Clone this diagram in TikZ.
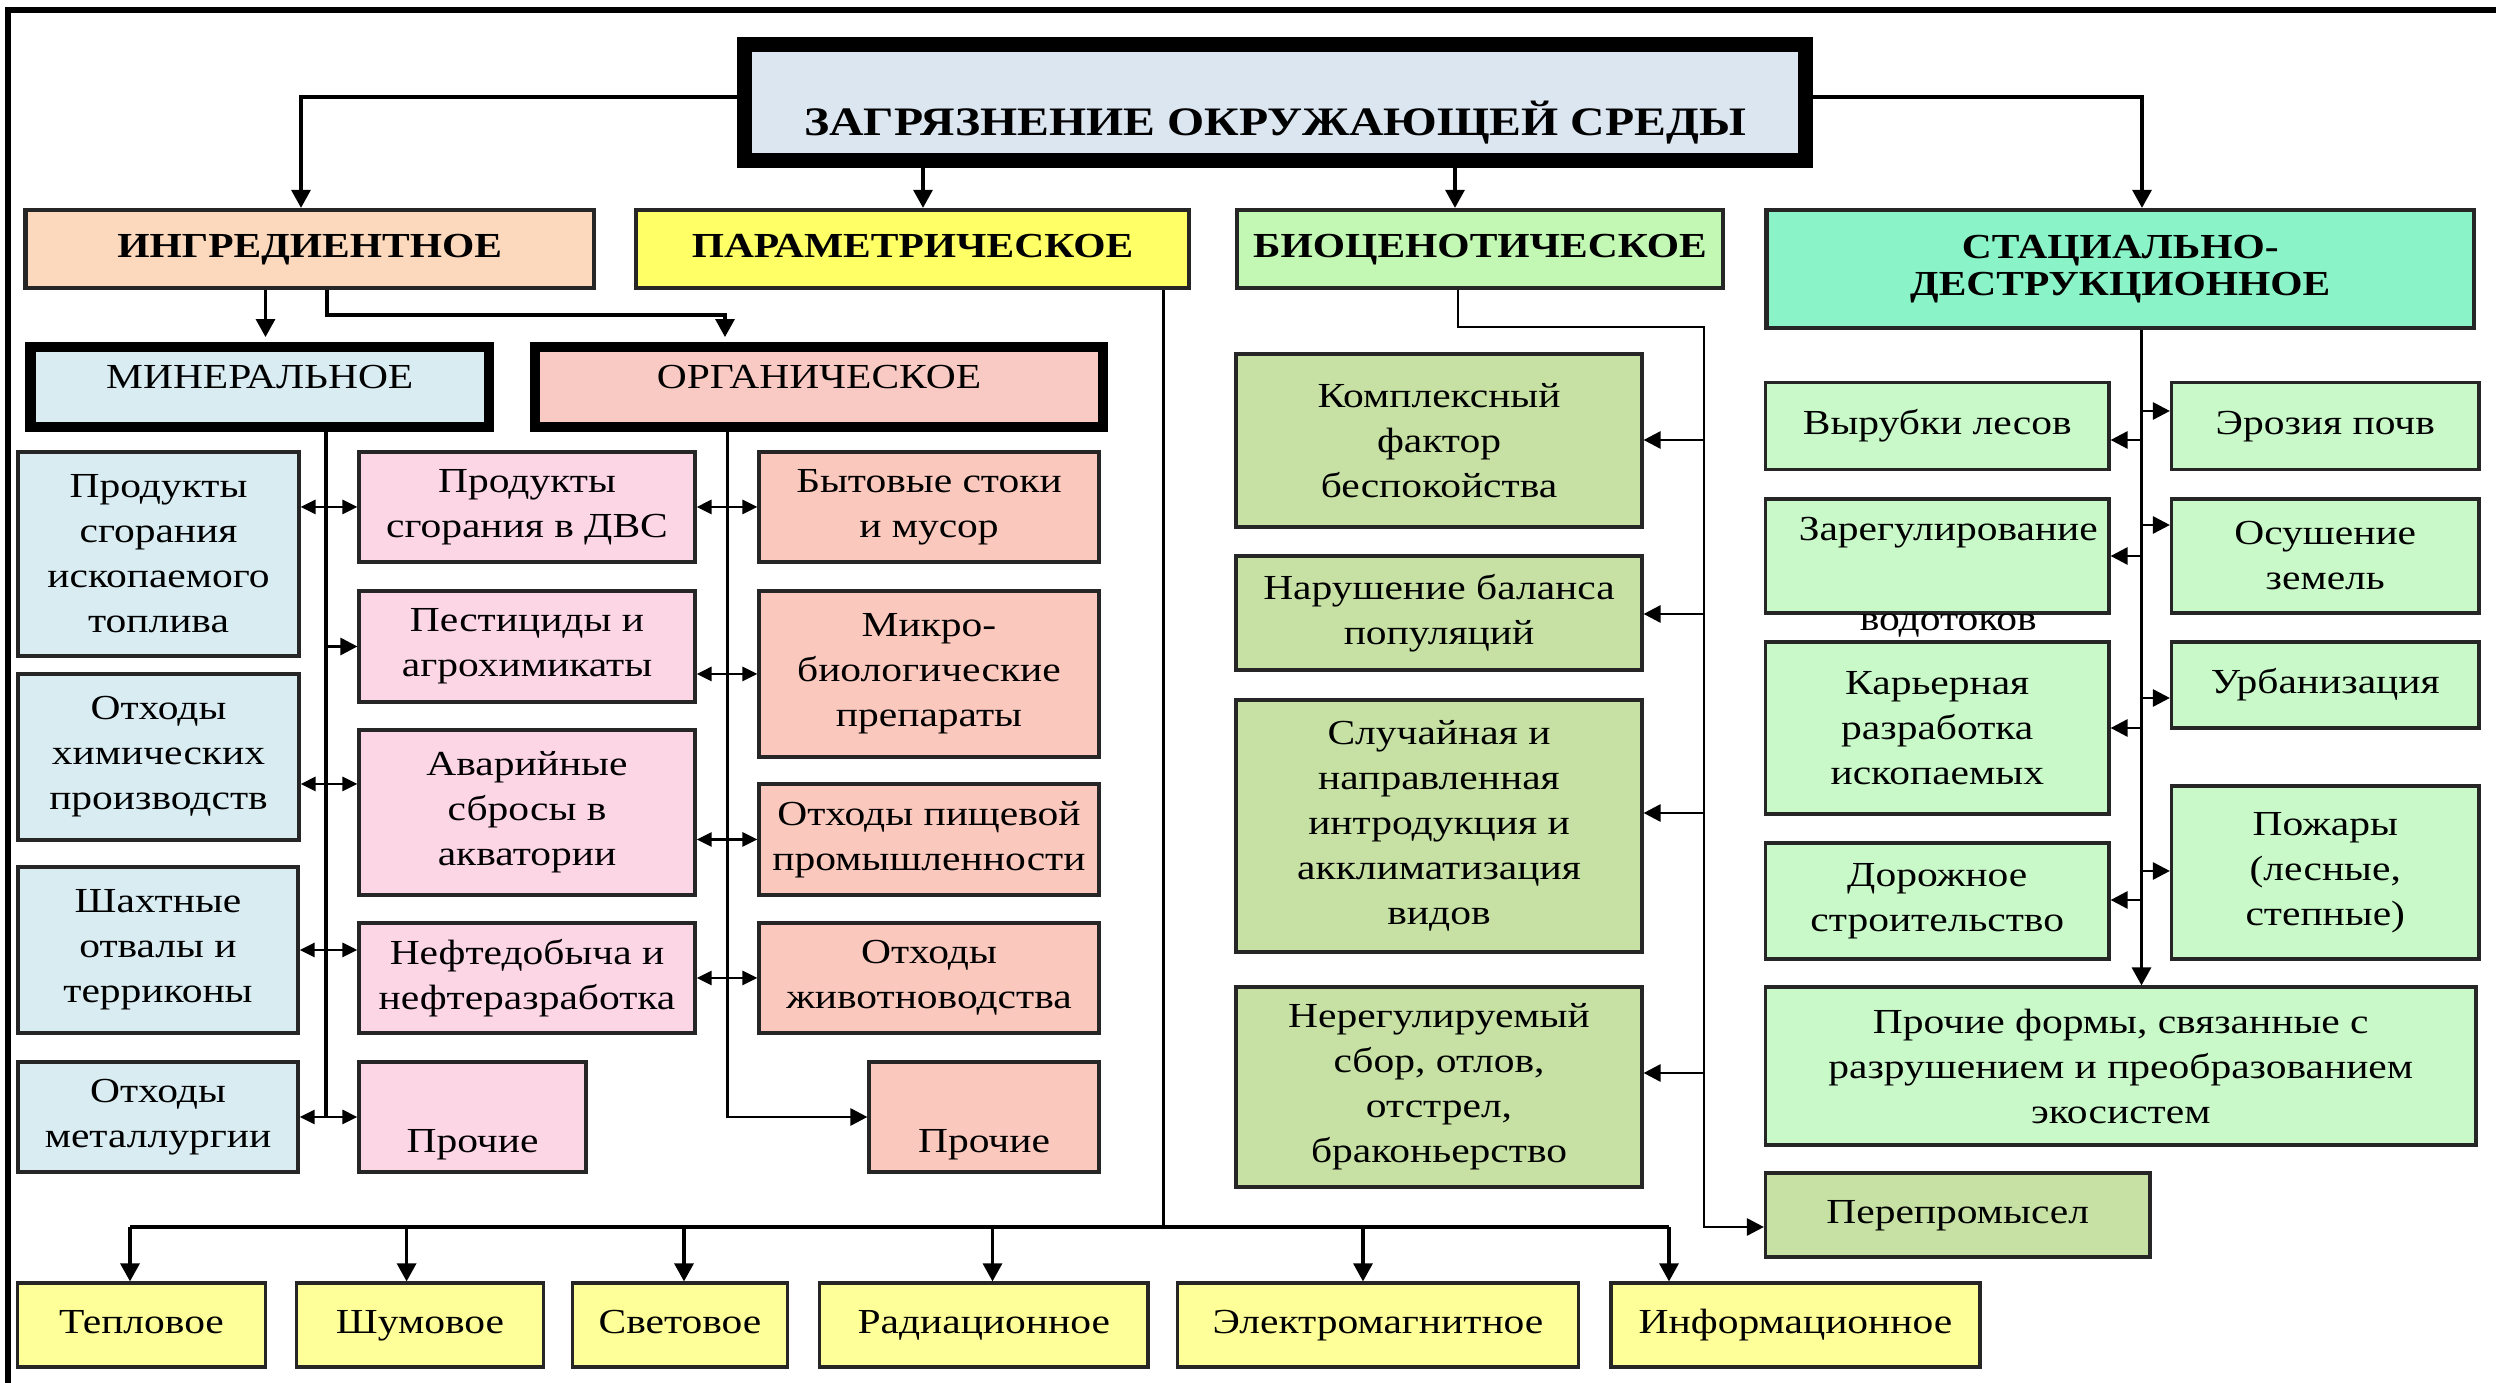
\documentclass[tikz,border=0pt]{standalone}
\usepackage{fontspec}
\setmainfont{Liberation Serif}[FakeStretch=1.18]
\usepackage{xcolor}
\usepackage{tikz}
\usetikzlibrary{arrows.meta}

\definecolor{titlefill}{HTML}{DCE6F1}
\definecolor{ingrfill}{HTML}{FCD9BD}
\definecolor{paramfill}{HTML}{FFFF66}
\definecolor{biocfill}{HTML}{C2F7B4}
\definecolor{stacfill}{HTML}{8AF4C8}
\definecolor{minfill}{HTML}{D8ECF2}
\definecolor{orgfill}{HTML}{F9CAC3}
\definecolor{pinkfill}{HTML}{FDD6E6}
\definecolor{salmfill}{HTML}{FAC8BD}
\definecolor{olivefill}{HTML}{C6E1A3}
\definecolor{mintfill}{HTML}{C9F9C9}
\definecolor{lowfill}{HTML}{FFFF99}

\begin{document}
\begin{tikzpicture}[x=0.01cm,y=-0.01cm,
box/.style={draw=black!85,line width=0.9pt,align=center,inner sep=1pt,
  font=\fontsize{10}{12.8}\selectfont},
wh/.style 2 args={minimum width=#1*0.01cm,minimum height=#2*0.01cm},
oneline/.style={text height=7pt,text depth=2pt},
headbox/.style={box,line width=1.2pt,font=\fontsize{10}{10.5}\selectfont\bfseries},
thickbox/.style={box,draw=black,line width=2.85pt,text depth=5.7pt},
lowbox/.style={box,oneline,fill=lowfill},
txt/.style={align=center,inner sep=0pt,font=\fontsize{10}{12.8}\selectfont},
myline/.style={line width=0.9pt},
myedge/.style={-{Triangle[length=1.8mm,width=1.9mm]},line width=0.9pt},
tipedge/.style={-{Triangle[length=1.7mm,width=1.7mm]},line width=0.8pt},
dbledge/.style={{Triangle[length=1.5mm,width=1.4mm]}-{Triangle[length=1.5mm,width=1.4mm]},line width=0.8pt}]
\useasboundingbox (0,0) rectangle (2496,1383);
\draw[line width=1.6pt] (8,1383) -- (8,10) -- (2496,10);

% top and the four kinds
\node[box,draw=black,line width=4.3pt,fill=titlefill,wh={1061}{116},
  label={[txt,yshift=-2mm,font=\fontsize{11.5}{13}\selectfont\bfseries]center:ЗАГРЯЗНЕНИЕ ОКРУЖАЮЩЕЙ СРЕДЫ}] (title) at (1275,102.5) {};
\node[headbox,oneline,fill=ingrfill,wh={568.5}{78}] (ingr) at (309.75,249) {ИНГРЕДИЕНТНОЕ};
\node[headbox,oneline,fill=paramfill,wh={553}{78}] (param) at (912.5,249) {ПАРАМЕТРИЧЕСКОЕ};
\node[headbox,oneline,fill=biocfill,wh={486}{78}] (bioc) at (1480,249) {БИОЦЕНОТИЧЕСКОЕ};
\node[headbox,fill=stacfill,wh={707.5}{118}] (stac) at (2120.25,269) {СТАЦИАЛЬНО-\\ДЕСТРУКЦИОННОЕ};

\node[thickbox,fill=minfill,wh={458.5}{80}] (mineral) at (259.75,387) {МИНЕРАЛЬНОЕ};
\node[thickbox,fill=orgfill,wh={568}{80}] (organic) at (819,387) {ОРГАНИЧЕСКОЕ};

% mineral
\node[box,fill=minfill,wh={281}{204}] (m1) at (158.5,554) {Продукты\\сгорания\\ископаемого\\топлива};
\node[box,fill=minfill,wh={281}{166}] (m2) at (158.5,757) {Отходы\\химических\\производств};
\node[box,fill=minfill,wh={280}{166}] (m3) at (158,950) {Шахтные\\отвалы и\\терриконы};
\node[box,fill=minfill,wh={280}{110}] (m4) at (158,1117) {Отходы\\металлургии};

% organic, both columns
\node[box,fill=pinkfill,wh={336}{110}] (o1) at (527,507) {Продукты\\сгорания в ДВС};
\node[box,fill=pinkfill,wh={336}{111}] (o2) at (527,646.5) {Пестициды и\\агрохимикаты};
\node[box,fill=pinkfill,wh={336}{165}] (o3) at (527,812.5) {Аварийные\\сбросы в\\акватории};
\node[box,fill=pinkfill,wh={336}{110}] (o4) at (527,978) {Нефтедобыча и\\нефтеразработка};
\node[box,fill=pinkfill,wh={227}{110},label={[txt,yshift=-2.8mm]center:Прочие}] (o5) at (472.5,1117) {};

\node[box,fill=salmfill,wh={340}{110}] (r1) at (929,507) {Бытовые стоки\\и мусор};
\node[box,fill=salmfill,wh={340}{166}] (r2) at (929,674) {Микро-\\биологические\\препараты};
\node[box,fill=salmfill,wh={340}{111}] (r3) at (929,839.5) {Отходы пищевой\\промышленности};
\node[box,fill=salmfill,wh={340}{110}] (r4) at (929,978) {Отходы\\животноводства};
\node[box,fill=salmfill,wh={230}{110},label={[txt,yshift=-2.8mm]center:Прочие}] (r5) at (984,1117) {};

% biocenotic
\node[box,fill=olivefill,wh={406}{173}] (k1) at (1439,440.5) {Комплексный\\фактор\\беспокойства};
\node[box,fill=olivefill,wh={406}{114}] (k2) at (1439,613) {Нарушение баланса\\популяций};
\node[box,fill=olivefill,wh={406}{252}] (k3) at (1439,826) {Случайная и\\направленная\\интродукция и\\акклиматизация\\видов};
\node[box,fill=olivefill,wh={406}{200}] (k4) at (1439,1087) {Нерегулируемый\\сбор, отлов,\\отстрел,\\браконьерство};
\node[box,oneline,fill=olivefill,wh={384.5}{84}] (k5) at (1957.75,1215) {Перепромысел};

% stational-destructive
\node[box,oneline,fill=mintfill,wh={343.5}{86.5}] (s1) at (1937.25,426) {Вырубки лесов};
\node[box,oneline,fill=mintfill,wh={307.5}{86.5}] (s2) at (2325.25,426) {Эрозия почв};
\node[box,fill=mintfill,wh={343.5}{114},
  label={[txt,xshift=1.1mm,yshift=-2.15mm]center:{Зарегулирование\\[12.8pt]водотоков}}] (s3) at (1937.25,556) {};
\node[box,fill=mintfill,wh={307.5}{114}] (s4) at (2325.25,556) {Осушение\\земель};
\node[box,fill=mintfill,wh={343.5}{172}] (s5) at (1937.25,728) {Карьерная\\разработка\\ископаемых};
\node[box,oneline,fill=mintfill,wh={307.5}{86}] (s6) at (2325.25,685) {Урбанизация};
\node[box,fill=mintfill,wh={343.5}{116}] (s7) at (1937.25,901) {Дорожное\\строительство};
\node[box,fill=mintfill,wh={307.5}{173}] (s8) at (2325.25,872.5) {Пожары\\(лесные,\\степные)};
\node[box,fill=mintfill,wh={710.5}{158}] (s9) at (2120.75,1066) {Прочие формы, связанные с\\разрушением и преобразованием\\экосистем};

% parametric
\node[lowbox,wh={248}{84}] (b1) at (141.5,1325) {Тепловое};
\node[lowbox,wh={247}{84}] (b2) at (420,1325) {Шумовое};
\node[lowbox,wh={215.6}{84}] (b3) at (680,1325) {Световое};
\node[lowbox,wh={328.5}{84}] (b4) at (983.75,1325) {Радиационное};
\node[lowbox,wh={401.5}{84}] (b5) at (1378,1325) {Электромагнитное};
\node[lowbox,wh={369}{84}] (b6) at (1795.5,1325) {Информационное};

% from the title
\draw[myedge] (title.west |- 0,97) -| (ingr.north -| 301,0);
\draw[myedge] (title.south -| 923,0) -- (param.north -| 923,0);
\draw[myedge] (title.south -| 1455,0) -- (bioc.north -| 1455,0);
\draw[myedge] (title.east |- 0,97) -| (stac.north -| 2142,0);

\draw[myedge,shorten >=1.4pt] (ingr.south -| 265.5,0) -- (mineral.north -| 265.5,0);
\draw[myedge,shorten >=1.4pt] (ingr.south -| 327,0) |- (725,315) -- (organic.north -| 725,0);

% mineral and organic links
\draw[myline] (mineral.south -| 326,0) -- (326,1117);
\draw[tipedge] (organic.south -| 727.5,0) |- (r5.west);
\draw[dbledge] (m1.east |- o1.west) -- (o1.west);
\draw[tipedge] (o2.west -| 326,0) -- (o2.west);
\draw[dbledge] (m2.east |- 0,784) -- (o3.west |- 0,784);
\draw[dbledge] (m3.east) -- (m3.east -| o4.west);
\draw[dbledge] (m4.east) -- (o5.west);
\draw[dbledge] (o1.east) -- (r1.west);
\draw[dbledge] (o2.east |- r2.west) -- (r2.west);
\draw[dbledge] (o3.east |- r3.west) -- (r3.west);
\draw[dbledge] (o4.east) -- (r4.west);

% parametric bus
\draw[myline] (param.south -| 1163.5,0) |- (130,1227);
\draw[myline] (1163.5,1227) -- (1669,1227);
\foreach \xx/\nm in {130/b1,406.6/b2,684/b3,992.5/b4,1363/b5,1669/b6}
  \draw[myedge] (\xx,1227) -- (\nm.north -| \xx,0);

% biocenotic bus
\draw[tipedge] (bioc.south -| 1458,0) |- (1704,327) |- (k5.west |- 0,1227);
\foreach \nm/\yy in {k1/440,k2/614,k3/813,k4/1073}
  \draw[tipedge] (1704,\yy) -- (\nm.east |- 0,\yy);

% stational bus
\draw[myedge] (stac.south -| 2141.5,0) -- (s9.north -| 2141.5,0);
\foreach \nm/\yy in {s1/440,s3/556,s5/728,s7/900}
  \draw[tipedge] (2141.5,\yy) -- (\nm.east |- 0,\yy);
\foreach \nm/\yy in {s2/411,s4/525,s6/698,s8/871}
  \draw[tipedge] (2141.5,\yy) -- (\nm.west |- 0,\yy);
\end{tikzpicture}
\end{document}
